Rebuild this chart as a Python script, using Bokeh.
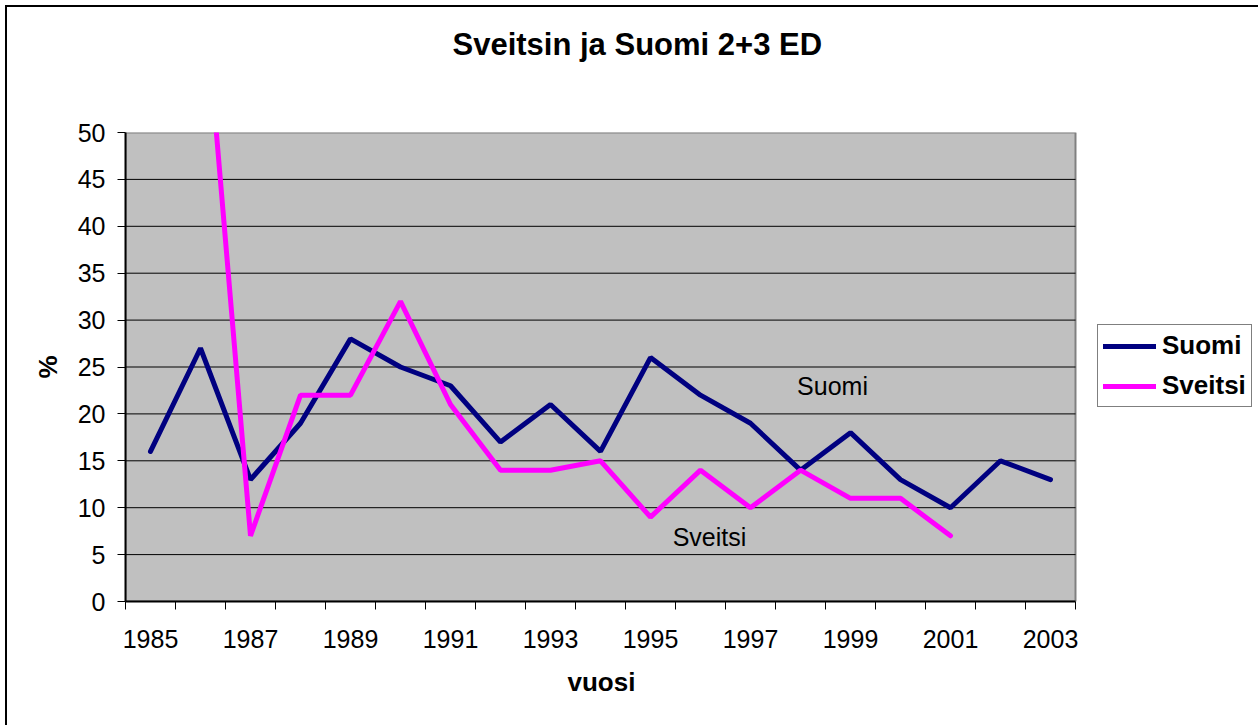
from bokeh.plotting import figure
from bokeh.models import (FixedTicker, Legend, LegendItem, Title, ColumnDataSource)
from bokeh.core.properties import value
from bokeh.embed import file_html
from bokeh.resources import INLINE

nan = float("nan")
years = list(range(1985, 2004))
suomi = [16, 27, 13, 19, 28, 25, 23, 17, 21, 16, 26, 22, 19, 14, 18, 13, 10, 15, 13]
sveitsi = [nan, 70, 7, 22, 22, 32, 21, 14, 14, 15, 9, 14, 10, 14, 11, 11, 7, nan, nan]
year_labels = [1985, 1987, 1989, 1991, 1993, 1995, 1997, 1999, 2001, 2003]
y_ticks = [0, 5, 10, 15, 20, 25, 30, 35, 40, 45, 50]
title_text = "Sveitsin ja Suomi 2+3 ED"
x_title = "vuosi"
y_title = "%"
series_names = ["Suomi", "Sveitsi"]
note_x = [1998.64, 1996.18]
note_y = [22.97, 6.85]

FONT = "Liberation Sans"

# layout: plot area is 950 px wide (50 px per year); the frame is extended to
# the right so that the legend can sit inside it.
PLOT_W = 950
FRAME_W = 1131
x_start = years[0] - 0.5
x_plot_end = years[-1] + 0.5
x_frame_end = x_start + (x_plot_end - x_start) * FRAME_W / PLOT_W

p = figure(frame_width=FRAME_W, frame_height=469, width=1258, height=725,
           x_range=(x_start, x_frame_end), y_range=(y_ticks[0], y_ticks[-1]),
           output_backend="svg", toolbar_location=None,
           min_border_left=125, min_border_right=2,
           min_border_top=132, min_border_bottom=124)
p.styles = {
    "background": ("linear-gradient(black, black) 5px 5px / 2px 100% no-repeat, "
                   "linear-gradient(black, black) 5px 5px / 100% 2px no-repeat, white"),
}

p.background_fill_color = "white"
p.border_fill_color = "white"
p.border_fill_alpha = 0
p.outline_line_color = None

# spacer between frame and title, then the title itself
p.add_layout(Title(text=" ", text_font_size="1px", standoff=68), "above")
p.add_layout(Title(text=title_text, align="left", offset=327, standoff=0,
                   text_font=FONT, text_font_size="31px", text_font_style="bold",
                   text_color="black"), "above")

# axes
xa = p.xaxis[0]
xa.bounds = (x_start, x_plot_end)
xa.ticker = FixedTicker(ticks=year_labels,
                        minor_ticks=[y - 0.5 for y in years] + [x_plot_end])
xa.major_tick_out = 0
xa.major_tick_in = 0
xa.minor_tick_out = 8
xa.minor_tick_in = 0
xa.minor_tick_line_color = "black"
xa.axis_line_color = "black"
xa.axis_line_width = 2
xa.major_label_text_font = FONT
xa.major_label_text_font_size = "25px"
xa.major_label_text_color = "black"
xa.major_label_standoff = 20

# x axis title, centred under the grey plot area (not the extended frame)
p.add_layout(Title(text=x_title, align="left", offset=442, standoff=29,
                   text_font=FONT, text_font_size="26px", text_font_style="bold",
                   text_color="black"), "below")

ya = p.yaxis[0]
ya.ticker = FixedTicker(ticks=y_ticks)
ya.major_tick_out = 8
ya.major_tick_in = 0
ya.minor_tick_out = 0
ya.minor_tick_in = 0
ya.major_tick_line_color = "black"
ya.axis_line_color = "black"
ya.axis_line_width = 2
ya.major_label_text_font = FONT
ya.major_label_text_font_size = "25px"
ya.major_label_text_color = "black"
ya.major_label_standoff = 12
ya.axis_label = y_title
ya.axis_label_text_font = FONT
ya.axis_label_text_font_size = "26px"
ya.axis_label_text_font_style = "bold"
ya.axis_label_text_color = "black"
ya.axis_label_standoff = 12

p.xgrid.visible = False
p.ygrid.visible = False

# grey plot area with its border
p.quad(left=[x_start], right=[x_plot_end], bottom=[y_ticks[0]], top=[y_ticks[-1]],
       fill_color="#C0C0C0", line_color="#808080", line_width=2)
# horizontal gridlines
grid_y = y_ticks[1:-1]
p.segment(x0=[x_start] * len(grid_y), x1=[x_plot_end] * len(grid_y),
          y0=grid_y, y1=grid_y, line_color="black", line_width=1)

src = ColumnDataSource(dict(x=years, suomi=suomi, sveitsi=sveitsi))
r1 = p.line("x", "suomi", source=src, line_color="#000080", line_width=5,
            line_cap="round")
r2 = p.line("x", "sveitsi", source=src, line_color="#FF00FF", line_width=5,
            line_cap="round")

p.text(x=note_x, y=note_y, text=series_names, text_font=value(FONT),
       text_font_size="25px", text_color="black", text_align="center",
       text_baseline="middle")

legend = Legend(items=[LegendItem(label=series_names[0], renderers=[r1]),
                       LegendItem(label=series_names[1], renderers=[r2])],
                location=(972, 194), margin=0, padding=5, spacing=9,
                glyph_width=53, glyph_height=30, label_height=30,
                label_standoff=6, border_line_color="black",
                border_line_width=1, background_fill_color="white",
                background_fill_alpha=1,
                label_text_font=FONT, label_text_font_size="26px",
                label_text_font_style="bold", label_text_color="black")
p.add_layout(legend, "center")

open("out.html", "w").write(file_html(p, INLINE))
